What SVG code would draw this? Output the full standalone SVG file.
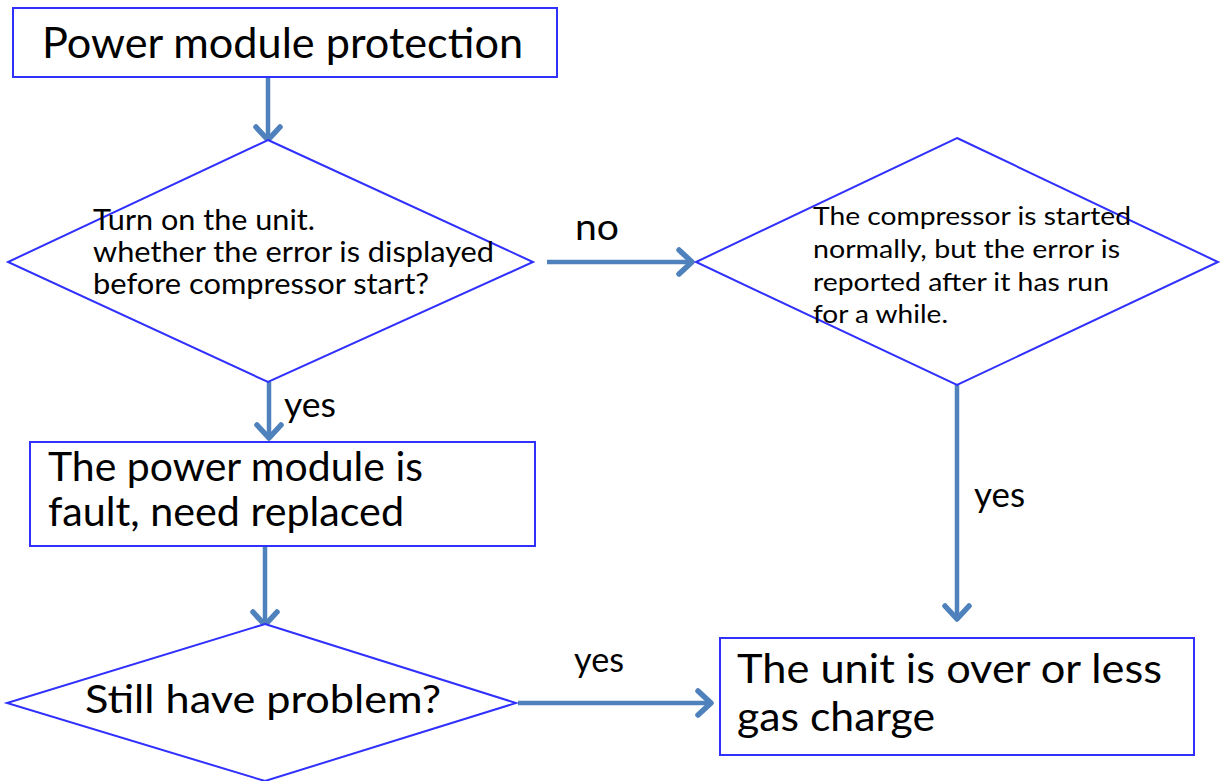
<svg xmlns="http://www.w3.org/2000/svg" width="1221" height="781" viewBox="0 0 1221 781">
<style>
.shape{fill:#ffffff;stroke:#3030ff;stroke-width:2}
.t{font-family:Lato,"Liberation Sans",sans-serif;fill:#000000}
.conn{fill:none;stroke:#4f81bd;stroke-width:4.5;marker-end:url(#arr)}
</style>
<defs>
<marker id="arr" markerUnits="userSpaceOnUse" markerWidth="30" markerHeight="30" viewBox="-16 -15 20 30" refX="0" refY="0" orient="auto">
<path d="M-13,-12 L0,0 L-13,12" fill="none" stroke="#4f81bd" stroke-width="5.5" stroke-linejoin="round" stroke-linecap="round"/>
</marker>
</defs>
<rect width="1221" height="781" fill="#ffffff"/>
<g id="connectors">
<line class="conn" x1="268" y1="77" x2="268" y2="140"/>
<line class="conn" x1="269" y1="382" x2="269" y2="438"/>
<line class="conn" x1="265" y1="546" x2="265" y2="625"/>
<line class="conn" x1="547" y1="262" x2="692" y2="262"/>
<line class="conn" x1="957" y1="385" x2="957" y2="619"/>
<line class="conn" x1="518" y1="703" x2="711" y2="703"/>
<text class="t" x="575" y="240" font-size="37" textLength="44" lengthAdjust="spacingAndGlyphs">no</text>
<text class="t" x="284" y="417" font-size="34" textLength="52" lengthAdjust="spacingAndGlyphs">yes</text>
<text class="t" x="974" y="507" font-size="34" textLength="51" lengthAdjust="spacingAndGlyphs">yes</text>
<text class="t" x="574" y="672" font-size="34" textLength="50" lengthAdjust="spacingAndGlyphs">yes</text>
</g>
<g id="start">
<rect class="shape" x="13" y="8" width="544" height="69"/>
<text class="t" x="42" y="58" font-size="42" textLength="481" lengthAdjust="spacingAndGlyphs">Power module protection</text>
</g>
<g id="decision1">
<polygon class="shape" points="268,140 533,262 268,382 8,262"/>
<text class="t" font-size="28">
<tspan x="93" y="230" textLength="222" lengthAdjust="spacingAndGlyphs">Turn on the unit.</tspan>
<tspan x="93" y="262" textLength="401" lengthAdjust="spacingAndGlyphs">whether the error is displayed</tspan>
<tspan x="93" y="294" textLength="336" lengthAdjust="spacingAndGlyphs">before compressor start?</tspan>
</text>
</g>
<g id="decision2">
<polygon class="shape" points="957,138 1218,262 957,385 696,262"/>
<text class="t" font-size="25">
<tspan x="813" y="225" textLength="318" lengthAdjust="spacingAndGlyphs">The compressor is started</tspan>
<tspan x="813" y="258" textLength="307" lengthAdjust="spacingAndGlyphs">normally, but the error is</tspan>
<tspan x="813" y="291" textLength="296" lengthAdjust="spacingAndGlyphs">reported after it has run</tspan>
<tspan x="813" y="323" textLength="135" lengthAdjust="spacingAndGlyphs">for a while.</tspan>
</text>
</g>
<g id="replace">
<rect class="shape" x="30" y="442" width="505" height="104"/>
<text class="t" font-size="40">
<tspan x="48" y="481" textLength="375" lengthAdjust="spacingAndGlyphs">The power module is</tspan>
<tspan x="48" y="526" textLength="356" lengthAdjust="spacingAndGlyphs">fault, need replaced</tspan>
</text>
</g>
<g id="decision3">
<polygon class="shape" points="265,624 516,703 265,781 7,703"/>
<text class="t" x="85" y="713" font-size="38" textLength="356" lengthAdjust="spacingAndGlyphs">Still have problem?</text>
</g>
<g id="gascharge">
<rect class="shape" x="720" y="638" width="474" height="117"/>
<text class="t" font-size="40">
<tspan x="737" y="683" textLength="425" lengthAdjust="spacingAndGlyphs">The unit is over or less</tspan>
<tspan x="737" y="731" textLength="198" lengthAdjust="spacingAndGlyphs">gas charge</tspan>
</text>
</g>
</svg>
